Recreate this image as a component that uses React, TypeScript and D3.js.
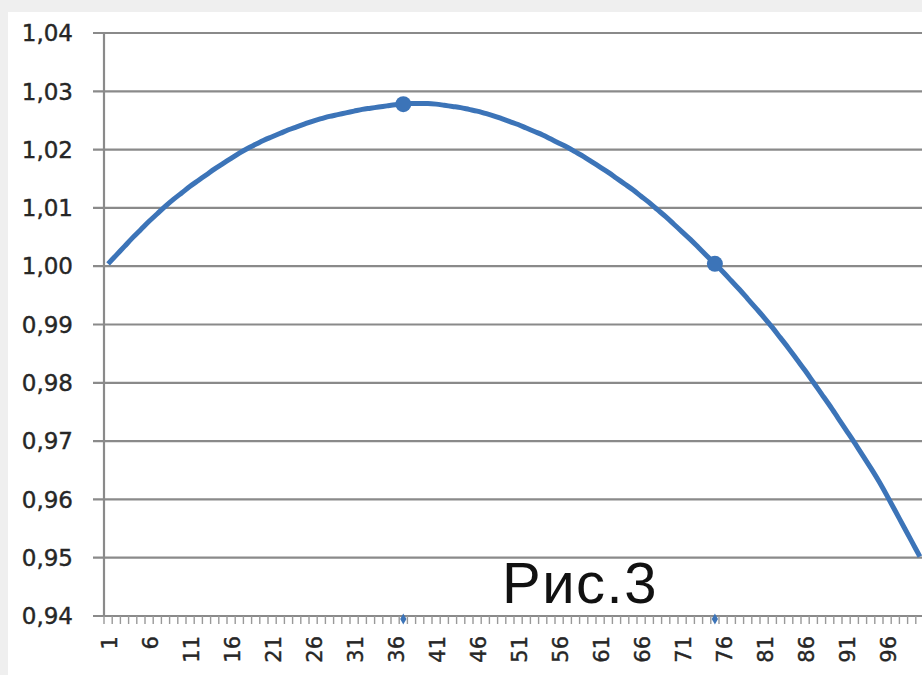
import React from "react";
import * as d3 from "d3";

const categories: number[] = Array.from({ length: 100 }, (_, i) => i + 1);

const values: number[] = [
  1.0004, 1.0019, 1.0034, 1.0049, 1.0063, 1.0077, 1.009, 1.0103, 1.0115, 1.0126,
  1.0137, 1.0147, 1.0157, 1.0167, 1.0176, 1.0185, 1.0194, 1.0202, 1.0209, 1.0216,
  1.0222, 1.0228, 1.0234, 1.0239, 1.0244, 1.0249, 1.0253, 1.0257, 1.026, 1.0263,
  1.0266, 1.0269, 1.0271, 1.0273, 1.0275, 1.0277, 1.0278, 1.0279, 1.0279, 1.0279,
  1.0278, 1.0276, 1.0274, 1.0272, 1.0269, 1.0266, 1.0262, 1.0258, 1.0253, 1.0248,
  1.0243, 1.0237, 1.0231, 1.0225, 1.0218, 1.0211, 1.0204, 1.0196, 1.0188, 1.0179,
  1.017, 1.0161, 1.0151, 1.0141, 1.0131, 1.012, 1.0109, 1.0097, 1.0085, 1.0072,
  1.0059, 1.0046, 1.0032, 1.0018, 1.0004, 0.999, 0.9975, 0.996, 0.9944, 0.9928,
  0.9912, 0.9895, 0.9877, 0.9859, 0.984, 0.9821, 0.9801, 0.9781, 0.9761, 0.974,
  0.9719, 0.9698, 0.9676, 0.9654, 0.9631, 0.9606, 0.958, 0.9554, 0.9528, 0.9502,
];

const markedCategories: number[] = [37, 75];
const yTicks: number[] = [0.94, 0.95, 0.96, 0.97, 0.98, 0.99, 1.0, 1.01, 1.02, 1.03, 1.04];
const xLabelCategories: number[] = categories.filter((c) => (c - 1) % 5 === 0);
const caption = "Рис.3";

const W = 922;
const H = 675;
const left = 104;
const right = 924;
const top = 33;
const bottom = 616;

const lineColor = "#3c74b8";
const gridColor = "#8a8a8a";
const textColor = "#262626";

export default function App() {
  const x = d3.scaleBand<number>().domain(categories).range([left, right]).padding(0);
  const bw = x.bandwidth();
  const cx = (c: number) => (x(c) as number) + bw / 2;
  const y = d3.scaleLinear().domain([0.94, 1.04]).range([bottom, top]);
  const fmt = (v: number) => d3.format(".2f")(v).replace(".", ",");

  const line = d3
    .line<number>()
    .x((_, i) => cx(categories[i]))
    .y((v) => y(v))
    .curve(d3.curveMonotoneX);

  const minorTicks = categories.map((c) => x(c) as number).concat([right]);

  return (
    <svg
      width={W}
      height={H}
      style={{ position: "fixed", left: 0, top: 0, display: "block" }}
    >
      <defs>
        <clipPath id="plotclip">
          <rect x={0} y={0} width={W} height={H} />
        </clipPath>
      </defs>
      <rect x={0} y={0} width={W} height={H} fill="#efefef" />
      <rect x={8} y={12} width={W - 8} height={H - 12} fill="#ffffff" />

      {yTicks.map((t) => (
        <line
          key={"g" + t}
          x1={93}
          x2={W}
          y1={y(t)}
          y2={y(t)}
          stroke={gridColor}
          strokeWidth={2.2}
        />
      ))}
      <line x1={left} x2={left} y1={top} y2={bottom} stroke={gridColor} strokeWidth={2.2} />

      {minorTicks.map((t, i) => (
        <line
          key={"m" + i}
          x1={t}
          x2={t}
          y1={bottom}
          y2={bottom + 8}
          stroke="#999"
          strokeWidth={1.4}
        />
      ))}

      {yTicks.map((t) => (
        <text
          key={"yl" + t}
          x={73}
          y={y(t)}
          dy="0.36em"
          textAnchor="end"
          fontFamily="DejaVu Sans, sans-serif"
          fontSize={23}
          fill={textColor}
          stroke={textColor}
          strokeWidth={0.4}
        >
          {fmt(t)}
        </text>
      ))}

      {xLabelCategories.map((c) => (
        <text
          key={"xl" + c}
          transform={`translate(${cx(c) + 1.5},${636}) rotate(-90)`}
          dy="0.36em"
          textAnchor="end"
          fontFamily="DejaVu Sans, sans-serif"
          fontSize={21}
          fill={textColor}
          stroke={textColor}
          strokeWidth={0.4}
        >
          {c}
        </text>
      ))}

      <text
        x={502}
        y={603}
        fontFamily="Liberation Sans, Arial, sans-serif"
        fontSize={58}
        letterSpacing={1.5}
        fill="#111"
      >
        {caption}
      </text>

      <g clipPath="url(#plotclip)">
        <path d={line(values) || ""} fill="none" stroke={lineColor} strokeWidth={5} strokeLinejoin="round" />
        {markedCategories.map((c) => (
          <circle key={"mk" + c} cx={cx(c)} cy={y(values[c - 1])} r={8} fill={lineColor} />
        ))}
        {markedCategories.map((c) => (
          <path
            key={"bm" + c}
            d={d3.symbol().type(d3.symbolDiamond).size(34)() || ""}
            transform={`translate(${cx(c)},${bottom + 3})`}
            fill={lineColor}
          />
        ))}
      </g>
    </svg>
  );
}
